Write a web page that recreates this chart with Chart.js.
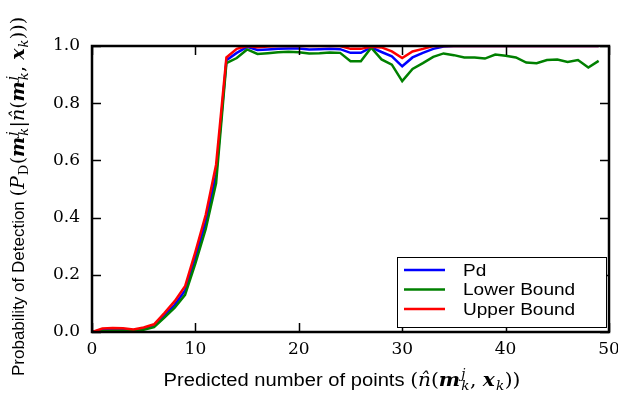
<!DOCTYPE html>
<html>
<head>
<meta charset="utf-8">
<script src="https://cdn.jsdelivr.net/npm/chart.js@4/dist/chart.umd.min.js"></script>
<style>
  html, body { margin: 0; padding: 0; background: #fff; }
  canvas { display: block; }
</style>
</head>
<body>
<canvas id="pdChart" width="618" height="394"></canvas>
<script>
// ---------------------------------------------------------------
// data: detection probability vs predicted number of points
// ---------------------------------------------------------------
const nPoints = Array.from({ length: 50 }, (_, i) => i);

const pdValues = [
  0, 0.008, 0.010, 0.010, 0.006, 0.012, 0.022, 0.058, 0.095, 0.145,
  0.26, 0.385, 0.55, 0.95, 0.976, 0.997, 0.986, 0.988, 0.990, 0.991,
  0.991, 0.988, 0.989, 0.990, 0.989, 0.976, 0.976, 0.995, 0.979, 0.964,
  0.929, 0.960, 0.976, 0.990, 0.998, 1, 1, 1, 1, 1,
  1, 1, 1, 1, 1, 1, 1, 1, 1, 1
];

const lowerValues = [
  0, 0.003, 0.004, 0.004, 0.003, 0.008, 0.017, 0.050, 0.085, 0.130,
  0.24, 0.36, 0.52, 0.94, 0.958, 0.988, 0.972, 0.975, 0.978, 0.980,
  0.978, 0.974, 0.975, 0.977, 0.976, 0.947, 0.947, 0.994, 0.953, 0.935,
  0.877, 0.920, 0.940, 0.962, 0.974, 0.968, 0.960, 0.960, 0.956, 0.970,
  0.966, 0.960, 0.942, 0.940, 0.951, 0.953, 0.944, 0.951, 0.925, 0.948
];

const upperValues = [
  0, 0.012, 0.014, 0.013, 0.009, 0.016, 0.027, 0.066, 0.108, 0.160,
  0.28, 0.41, 0.585, 0.96, 0.990, 1, 0.996, 0.998, 1, 1,
  1, 1, 1, 1, 1, 0.990, 0.990, 0.997, 0.995, 0.981,
  0.958, 0.981, 0.990, 1, 1, 1, 1, 1, 1, 1,
  1, 1, 1, 1, 1, 1, 1, 1, 1, 1
];

const xTicks = [0, 10, 20, 30, 40, 50];
const yTicks = [0, 0.2, 0.4, 0.6, 0.8, 1.0];

const SANS = '"Liberation Sans", Arial, sans-serif';
const SERIF = '"DejaVu Serif", serif';

function toXY(values) {
  return values.map((v, i) => ({ x: nPoints[i], y: v }));
}

// ---------------------------------------------------------------
// mixed text (words + math) drawn piece by piece
// ---------------------------------------------------------------
function fonts(txt, math) {
  return {
    txt: txt + 'px ' + SANS,
    math: math + 'px ' + SERIF,
    it: 'italic ' + math + 'px ' + SERIF,
    bi: 'italic bold ' + math + 'px ' + SERIF,
    smallIt: 'italic ' + Math.round(math * 0.68) + 'px ' + SERIF,
    small: Math.round(math * 0.68) + 'px ' + SERIF
  };
}

function mk(F) {
  return [{ t: 'm', f: F.bi }, { sup: 'j', sub: 'k', f: F.smallIt }];
}
function xk(F) {
  return [{ t: 'x', f: F.bi }, { sub: 'k', f: F.smallIt }];
}

const FX = fonts(18, 18);
const xTitleParts = [
  { t: 'Predicted number of points ', f: FX.txt },
  { t: '(', f: FX.math },
  { t: 'n\u0302', f: FX.it },
  { t: '(', f: FX.math },
  ...mk(FX),
  { t: ', ', f: FX.math },
  ...xk(FX),
  { t: '))', f: FX.math }
];

const FY = fonts(17, 19);
const yTitleParts = [
  { t: 'Probability of Detection ', f: FY.txt },
  { t: '(', f: FY.math },
  { t: 'P', f: FY.it },
  { sub: 'D', f: FY.small },
  { t: '(', f: FY.math },
  ...mk(FY),
  { t: '|', f: FY.math },
  { t: 'n\u0302', f: FY.it },
  { t: '(', f: FY.math },
  ...mk(FY),
  { t: ', ', f: FY.math },
  ...xk(FY),
  { t: ')))', f: FY.math }
];

function partWidth(ctx, p) {
  ctx.font = p.f;
  if (p.t !== undefined) return ctx.measureText(p.t).width;
  return Math.max(p.sup ? ctx.measureText(p.sup).width : 0,
                  p.sub ? ctx.measureText(p.sub).width : 0) + 1.5;
}

function drawRich(ctx, parts, x, y) {
  let cx = x;
  parts.forEach(p => {
    ctx.font = p.f;
    if (p.t !== undefined) {
      ctx.fillText(p.t, cx, y);
    } else {
      if (p.sup) ctx.fillText(p.sup, cx + 1, y - 8);
      if (p.sub) ctx.fillText(p.sub, cx + 1, y + 4);
    }
    cx += partWidth(ctx, p);
  });
}

function richWidth(ctx, parts) {
  return parts.reduce((w, p) => w + partWidth(ctx, p), 0);
}

// horizontal text is a little wider than the glyphs are tall
const WIDEN = 1.12;

// ---------------------------------------------------------------
// frame, inward ticks, axis titles and legend box
// ---------------------------------------------------------------
const framePlugin = {
  id: 'frame',
  afterDraw(chart) {
    const ctx = chart.ctx;
    const a = chart.chartArea;
    const xs = chart.scales.x, ys = chart.scales.y;
    const tickLen = 9;
    ctx.save();

    // inward tick marks on all four sides
    ctx.strokeStyle = '#000';
    ctx.lineWidth = 1.5;
    ctx.beginPath();
    xTicks.forEach(t => {
      const px = Math.round(xs.getPixelForValue(t)) + 0.5;
      ctx.moveTo(px, a.bottom); ctx.lineTo(px, a.bottom - tickLen);
      ctx.moveTo(px, a.top); ctx.lineTo(px, a.top + tickLen);
    });
    yTicks.forEach(t => {
      const py = Math.round(ys.getPixelForValue(t)) + 0.5;
      ctx.moveTo(a.left, py); ctx.lineTo(a.left + tickLen, py);
      ctx.moveTo(a.right, py); ctx.lineTo(a.right - tickLen, py);
    });
    ctx.stroke();

    // axes box
    ctx.lineWidth = 2.5;
    ctx.strokeRect(a.left, a.top, a.right - a.left, a.bottom - a.top);

    // legend in the lower right corner
    const lx = 397, ly = 257, lw = 209, lh = 70;
    ctx.fillStyle = '#fff';
    ctx.fillRect(lx, ly, lw, lh);
    ctx.lineWidth = 1;
    ctx.strokeStyle = '#000';
    ctx.strokeRect(lx + 0.5, ly + 0.5, lw, lh);
    ctx.textBaseline = 'middle';
    chart.data.datasets.forEach((ds, i) => {
      const ry = ly + 13 + i * 19.5;
      ctx.strokeStyle = ds.borderColor;
      ctx.lineWidth = 2.5;
      ctx.beginPath();
      ctx.moveTo(lx + 7, ry); ctx.lineTo(lx + 48, ry);
      ctx.stroke();
      ctx.save();
      ctx.translate(lx + 66, ry + 1);
      ctx.scale(WIDEN, 1);
      ctx.font = '17px ' + SANS;
      ctx.fillStyle = '#000';
      ctx.fillText(ds.label, 0, 0);
      ctx.restore();
    });

    // axis titles
    ctx.fillStyle = '#000';
    ctx.textBaseline = 'alphabetic';
    ctx.save();
    const xw = richWidth(ctx, xTitleParts) * WIDEN;
    ctx.translate(342 - xw / 2, 386);
    ctx.scale(WIDEN, 1);
    drawRich(ctx, xTitleParts, 0, 0);
    ctx.restore();

    ctx.translate(24, 376);
    ctx.rotate(-Math.PI / 2);
    drawRich(ctx, yTitleParts, 0, 0);

    ctx.restore();
  }
};

// ---------------------------------------------------------------
// chart
// ---------------------------------------------------------------
const tickFont = { family: SERIF, size: 17 };

new Chart(document.getElementById('pdChart'), {
  type: 'line',
  data: {
    datasets: [
      { label: 'Pd', data: toXY(pdValues), borderColor: '#0000ff', order: 2 },
      { label: 'Lower Bound', data: toXY(lowerValues), borderColor: '#008000', order: 1 },
      { label: 'Upper Bound', data: toXY(upperValues), borderColor: '#ff0000', order: 0 }
    ]
  },
  options: {
    responsive: false,
    animation: false,
    elements: {
      line: { borderWidth: 2.5, tension: 0, fill: false },
      point: { radius: 0 }
    },
    layout: { padding: { top: 46, right: 9, left: 0, bottom: 0 } },
    plugins: {
      legend: { display: false },
      tooltip: { enabled: false }
    },
    scales: {
      x: {
        type: 'linear',
        min: 0, max: 50,
        afterBuildTicks: s => { s.ticks = xTicks.map(v => ({ value: v })); },
        ticks: { font: tickFont, color: '#000', padding: 7, maxRotation: 0 },
        grid: { display: false, drawTicks: false },
        border: { display: false },
        afterFit: s => { s.height = 62; s.paddingLeft = 0; s.paddingRight = 0; }
      },
      y: {
        min: 0, max: 1,
        afterBuildTicks: s => { s.ticks = yTicks.map(v => ({ value: v })); },
        ticks: { font: tickFont, color: '#000', padding: 12, callback: v => v.toFixed(1) },
        grid: { display: false, drawTicks: false },
        border: { display: false },
        afterFit: s => { s.width = 92; s.paddingTop = 0; s.paddingBottom = 0; }
      }
    }
  },
  plugins: [framePlugin]
});
</script>
</body>
</html>
